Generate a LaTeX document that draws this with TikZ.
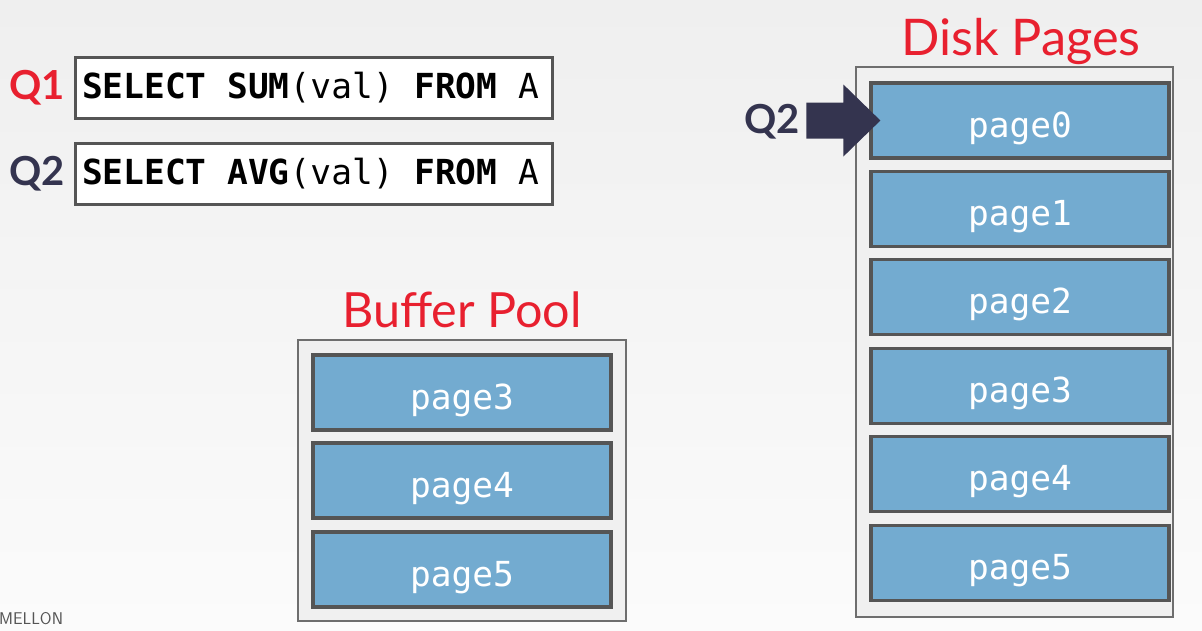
\documentclass[tikz,border=0pt]{standalone}
\usepackage{fontspec}
\setmainfont{Lato}
\setmonofont{DejaVu Sans Mono}
\newfontfamily\qfont{Lato}
\definecolor{bgtop}{HTML}{EFEFEF}
\definecolor{bgbot}{HTML}{FBFBFB}
\definecolor{qred}{HTML}{E8202F}
\definecolor{qnavy}{HTML}{34344F}
\definecolor{pagefill}{HTML}{73ABD0}
\definecolor{pageline}{HTML}{555555}
\definecolor{contline}{HTML}{6E6E6E}
\definecolor{contfill}{HTML}{F0F0F0}
\tikzset{
  pagebox/.style={draw=pageline, line width=3.2pt, fill=pagefill, minimum width=298pt, minimum height=75pt, inner sep=0pt},
  pagetext/.style={text=white, font=\ttfamily\fontsize{34.5}{40}\selectfont, inner sep=0pt},
  container/.style={draw=contline, line width=2.6pt, fill=contfill, inner sep=0pt},
  sqlbox/.style={draw=pageline, line width=3pt, fill=white, minimum width=477pt, minimum height=61pt, inner sep=0pt},
  sqltext/.style={font=\ttfamily\fontsize{34.5}{40}\selectfont, inner sep=0pt},
  qlabel/.style={font=\qfont\bfseries\fontsize{40}{44}\selectfont, inner sep=0pt},
  titlelabel/.style={text=qred, inner sep=0pt}
}
\begin{document}
\begin{tikzpicture}[x=1pt,y=-1pt]
\shade[top color=bgtop, bottom color=bgbot] (0,0) rectangle (1202,630);
\useasboundingbox (0,0) rectangle (1202,630);
% footer
\node[anchor=west, text=pageline, font=\sffamily\fontsize{17}{18}\selectfont, inner sep=0pt] (footer) at (-1,619) {MELLON};
% queries
\node[sqlbox] (sql1) at (313.5,87.5) {};
\node[sqltext] (sql1t) at ([xshift=-3pt]sql1.center) {\textbf{SELECT SUM}(val) \textbf{FROM} A};
\node[sqlbox] (sql2) at (313.5,174) {};
\node[sqltext] (sql2t) at ([xshift=-3pt]sql2.center) {\textbf{SELECT AVG}(val) \textbf{FROM} A};
\node[qlabel, text=qred] (q1) at (37,88) {Q1};
\node[qlabel, text=qnavy] (q2) at (37,174) {Q2};
% disk pages
\node[container, minimum width=317pt, minimum height=550pt] (disk) at (1014.5,342) {};
\node[titlelabel, anchor=base, font=\fontsize{50.5}{56}\selectfont] (disktitle) at (1021,55) {Disk Pages};
\foreach \i/\y in {0/120.5,1/209,2/297,3/386,4/474,5/563}{
  \node[pagebox] (d\i) at (1020,\y) {};
  \node[pagetext, anchor=base] (d\i t) at ([yshift=-16.5pt]d\i.center) {page\i};
}
% buffer pool
\node[container, minimum width=328pt, minimum height=281pt] (pool) at (462,480.5) {};
\node[titlelabel, anchor=base, font=\fontsize{48.5}{54}\selectfont] (pooltitle) at (462,327) {Buffer Pool};
\foreach \i/\y in {3/392.5,4/480.5,5/569.5}{
  \node[pagebox] (b\i) at (462,\y) {};
  \node[pagetext, anchor=base] (b\i t) at ([yshift=-16.5pt]b\i.center) {page\i};
}
% cursor arrow
\node[qlabel, text=qnavy] (q2cursor) at (772,122) {Q2};
\coordinate (tip) at ([xshift=11pt]d0.west);
\fill[qnavy] (tip) -- ++(-37,-36) -- ++(0,18) -- ++(-37,0) -- ++(0,36) -- ++(37,0) -- ++(0,18) -- cycle;
\end{tikzpicture}
\end{document}
